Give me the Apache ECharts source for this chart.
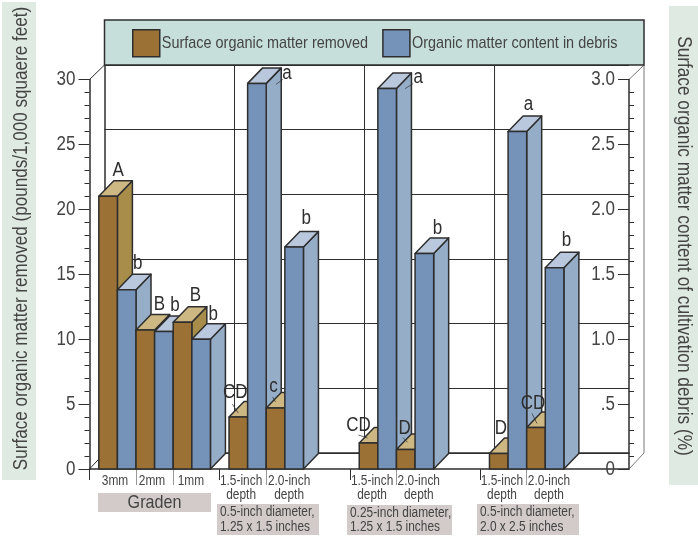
<!DOCTYPE html>
<html><head><meta charset="utf-8">
<style>html,body{margin:0;padding:0;background:#fff}#c{width:698px;height:536px}</style>
<script src="https://cdn.jsdelivr.net/npm/echarts@6/dist/echarts.min.js"></script>
</head><body><div id="c"></div>
<script>
// ---- data ----
const treatments = ['3mm','2mm','1mm','1.5-inch\ndepth','2.0-inch\ndepth','1.5-inch\ndepth','2.0-inch\ndepth','1.5-inch\ndepth','2.0-inch\ndepth'];
const surfaceRemoved = [21,10.7,11.3,4,4.7,2,1.5,1.2,3.2];
const debrisContent = [1.38,1.06,1.0,2.97,1.71,2.93,1.66,2.6,1.55];
const surfaceLetters = ['A','B','B','CD','c','CD','D','D','CD'];
const debrisLetters = ['b','b','b','a','b','a','b','a','b'];
const groupNames = ['Graden','0.5-inch diameter,\n1.25 x 1.5 inches','0.25-inch diameter,\n1.25 x 1.5 inches','0.5-inch diameter,\n2.0 x 2.5 inches'];
const leftTitle = 'Surface organic matter removed (pounds/1,000 squaere feet)';
const rightTitle = 'Surface organic matter content of cultivation debris (%)';
const seriesNames = ['Surface organic matter removed','Organic matter content in debris'];
// ---- axis layout, in bar slots ----
const surfaceSlots = [0,2,4,7,9,14,16,21,23];
const groupTicks = [-1,6,13,20];
const innerTicks = [1.5,3.5,8.5,15.5,22.5];
const labelSlots = [0.37,2.36,4.45,7.15,9.73,14.19,16.7,21.17,23.7];
const wallDividers = [7,14,21];
// ---- styling ----
// The reference uses a condensed face, which is not installed: narrow all canvas text horizontally.
const NARROW = 0.85;
(function(){
  const P = CanvasRenderingContext2D.prototype, ft = P.fillText, mt = P.measureText;
  P.fillText = function(t,x,y,m){ this.save(); this.translate(x,y); this.scale(NARROW,1); ft.call(this,t,0,0); this.restore(); };
  P.measureText = function(t){ const r = mt.call(this,t); return {width:r.width*NARROW,
    actualBoundingBoxAscent:r.actualBoundingBoxAscent,actualBoundingBoxDescent:r.actualBoundingBoxDescent,
    actualBoundingBoxLeft:r.actualBoundingBoxLeft*NARROW,actualBoundingBoxRight:r.actualBoundingBoxRight*NARROW,
    fontBoundingBoxAscent:r.fontBoundingBoxAscent,fontBoundingBoxDescent:r.fontBoundingBoxDescent}; };
})();
const FONT = '"Liberation Sans",sans-serif';
const INK = '#2e2e2e', TEXT = '#444';
const brown = {front:'#9b7135', side:'#a88d4a', top:'#cdb783'};
const blue = {front:'#7593b8', side:'#96adc8', top:'#bac8dd'};
const DX = 15, DY = 15.5;
// letter offset from the bar's front-top centre, then optional leader stroke relative to the letter
const surfaceNudge = [[10,-26],[14,-26],[13,-27],[-3,-25,-3,12,3,21],[-2,-21,-1,10,2,15],[-10,-18,0,10,9,13],[-1,-21,-2,9,3,14],[2,-25],[-3,-24,-1,10,4,20]];
const debrisNudge = [[11,-26],[11,-26],[12,-25],[30,-10,-4,6,-11,11],[12,-29],[31,-11,-5,6,-13,11],[13,-25],[11,-27],[12,-27]];

function barSeries(name, values, letters, nudges, offset, col, yIdx){
  return {
    type:'custom', name, xAxisIndex:0, yAxisIndex:yIdx, silent:true,
    itemStyle:{color:col.front,borderColor:INK,borderWidth:1.5},
    encode:{x:0,y:1},
    data: values.map((v,i)=>[surfaceSlots[i]+offset,v,i]),
    renderItem(params,api){
      const slot=api.value(0), v=api.value(1), i=api.value(2);
      const [x0,y0]=api.coord([slot-0.5,0]), [x1,y1]=api.coord([slot+0.5,v]);
      const z=10+slot*2;
      const poly=(pts,f,zz)=>({type:'polygon',z2:zz,shape:{points:pts},style:{fill:f,stroke:INK,lineWidth:1.5,lineJoin:'round'}});
      const n=nudges[i], lx=(x0+x1)/2+n[0], ly=y1+n[1];
      const kids=[
        poly([[x1,y0],[x1+DX,y0-DY],[x1+DX,y1-DY],[x1,y1]],col.side,z),
        poly([[x0,y1],[x0+DX,y1-DY],[x1+DX,y1-DY],[x1,y1]],col.top,z),
        poly([[x0,y0],[x1,y0],[x1,y1],[x0,y1]],col.front,z+1),
        {type:'text',z2:200,style:{text:letters[i],x:lx,y:ly,align:'center',verticalAlign:'middle',font:'20px '+FONT,fill:INK}}
      ];
      if(n.length>2) kids.push({type:'line',z2:200,shape:{x1:lx+n[2],y1:ly+n[3],x2:lx+n[4],y2:ly+n[5]},style:{stroke:INK,lineWidth:0.7}});
      return {type:'group',children:kids};
    }
  };
}

function box(x,y,w,h,text,align,size){
  return {type:'group',silent:true,children:[
    {type:'rect',shape:{x,y,width:w,height:h},style:{fill:'#d2cbc9'}},
    {type:'text',style:{text,x:align==='center'?x+w/2:x+3,y:y+h/2,align,verticalAlign:'middle',font:size+'px '+FONT,fill:TEXT,lineHeight:size+0.5}}
  ]};
}
const WALL='#555';
const seg=(x1,y1,x2,y2,c,w)=>({type:'line',silent:true,z:1,shape:{x1,y1,x2,y2},style:{stroke:c,lineWidth:w}});

const option={
  animation:false,
  backgroundColor:'#fff',
  textStyle:{fontFamily:FONT},
  grid:[
    {left:89.5,top:79.5,width:539.5,height:389.5},
    {left:104.5,top:65,width:524.5,height:388}
  ],
  xAxis:[
    {type:'value',gridIndex:0,min:-1,max:28,position:'bottom',
      axisLine:{show:true,onZero:false,lineStyle:{color:INK,width:1.5}},
      splitLine:{show:false},
      axisTick:{show:true,length:11,inside:false,customValues:groupTicks,lineStyle:{color:INK,width:1}},
      axisLabel:{show:true,customValues:labelSlots,margin:5,color:TEXT,fontFamily:FONT,fontSize:14,lineHeight:14,
        hideOverlap:false,verticalAlign:'top',
        formatter:(v)=>treatments[labelSlots.indexOf(v)]||''}},
    {type:'value',gridIndex:0,min:-1,max:28,position:'bottom',
      axisLine:{show:false},splitLine:{show:false},axisLabel:{show:false},
      axisTick:{show:true,length:16,customValues:innerTicks,lineStyle:{color:'#999',width:1}}},
    {type:'value',gridIndex:1,min:0,max:28.24,show:true,
      axisLine:{show:true,onZero:false,lineStyle:{color:INK,width:1.5}},axisTick:{show:false},axisLabel:{show:false},splitLine:{show:false}}
  ],
  yAxis:[
    {type:'value',gridIndex:0,min:0,max:30,interval:5,position:'left',
      axisLine:{show:true,onZero:false,lineStyle:{color:INK,width:1.5}},
      axisTick:{show:true,length:11,lineStyle:{color:INK,width:1}},
      minorTick:{show:true,splitNumber:5,length:5,lineStyle:{color:INK,width:1}},
      splitLine:{show:false},
      axisLabel:{color:TEXT,fontFamily:FONT,fontSize:20,margin:14}},
    {type:'value',gridIndex:0,min:0,max:3,interval:0.5,position:'right',
      axisLine:{show:true,onZero:false,lineStyle:{color:INK,width:1.5}},
      axisTick:{show:true,inside:true,length:11,lineStyle:{color:INK,width:1}},
      minorTick:{show:true,splitNumber:5,length:-5,lineStyle:{color:INK,width:1}},
      splitLine:{show:false},
      axisLabel:{inside:true,color:TEXT,fontFamily:FONT,fontSize:20,margin:14,
        formatter:(v)=>v===0?'0':(v===0.5?'.5':v.toFixed(1))}},
    {type:'value',gridIndex:1,min:0,max:30,interval:5,position:'left',
      axisLine:{show:true,onZero:false,lineStyle:{color:INK,width:1.5}},
      axisTick:{show:false},axisLabel:{show:false},
      splitLine:{show:true,lineStyle:{color:INK,width:1}}}
  ],
  legend:{
    left:132,top:29,padding:0,itemWidth:27,itemHeight:27,itemGap:14,icon:'rect',z:5,selectedMode:false,
    textStyle:{color:TEXT,fontFamily:FONT,fontSize:17,padding:[0,0,0,-3]},
    data:[
      {name:seriesNames[0],itemStyle:{color:brown.front,borderColor:INK,borderWidth:1.5}},
      {name:seriesNames[1],itemStyle:{color:blue.front,borderColor:INK,borderWidth:1.5}}
    ]
  },
  series:[
    {type:'custom',name:'wall',xAxisIndex:2,yAxisIndex:2,silent:true,z:1,
      data:wallDividers.map(d=>[d]),
      renderItem(p,api){
        const a=api.coord([api.value(0),0]),b=api.coord([api.value(0),30]);
        return {type:'line',shape:{x1:a[0],y1:a[1],x2:b[0],y2:b[1]},style:{stroke:INK,lineWidth:1}};
      }},
    barSeries(seriesNames[0],surfaceRemoved,surfaceLetters,surfaceNudge,0,brown,0),
    barSeries(seriesNames[1],debrisContent,debrisLetters,debrisNudge,1,blue,1)
  ],
  graphic:[
    {type:'rect',silent:true,z:0,shape:{x:2,y:2,width:34,height:478},style:{fill:'#dfeae2'}},
    {type:'rect',silent:true,z:0,shape:{x:669,y:6,width:29,height:479},style:{fill:'#dfeae2'}},
    {type:'rect',silent:true,z:3,shape:{x:104.5,y:20,width:539.5,height:45},style:{fill:'#c6dfdb',stroke:INK,lineWidth:1.5}},
    {type:'text',silent:true,z:4,rotation:Math.PI/2,x:21,y:238.5,style:{text:leftTitle,align:'center',verticalAlign:'middle',font:'20.1px '+FONT,fill:TEXT}},
    {type:'text',silent:true,z:4,rotation:-Math.PI/2,x:684,y:246,style:{text:rightTitle,align:'center',verticalAlign:'middle',font:'20.3px '+FONT,fill:TEXT}},
    seg(89.5,79.5,104.5,65,INK,1),
    seg(89.5,469,104.5,453,INK,1),
    seg(629,79.5,644,65,WALL,0.8),
    seg(629,469,644,453,WALL,0.8),
    seg(644,65,644,453,WALL,0.8),
    box(98,493,113,19,groupNames[0],'center',19),
    box(217,504,102,31,groupNames[1],'left',14),
    box(347,505,105,30,groupNames[2],'left',14),
    box(477,504,102,31,groupNames[3],'left',14)
  ]
};
echarts.init(document.getElementById('c'),null,{renderer:'canvas'}).setOption(option);
</script></body></html>
